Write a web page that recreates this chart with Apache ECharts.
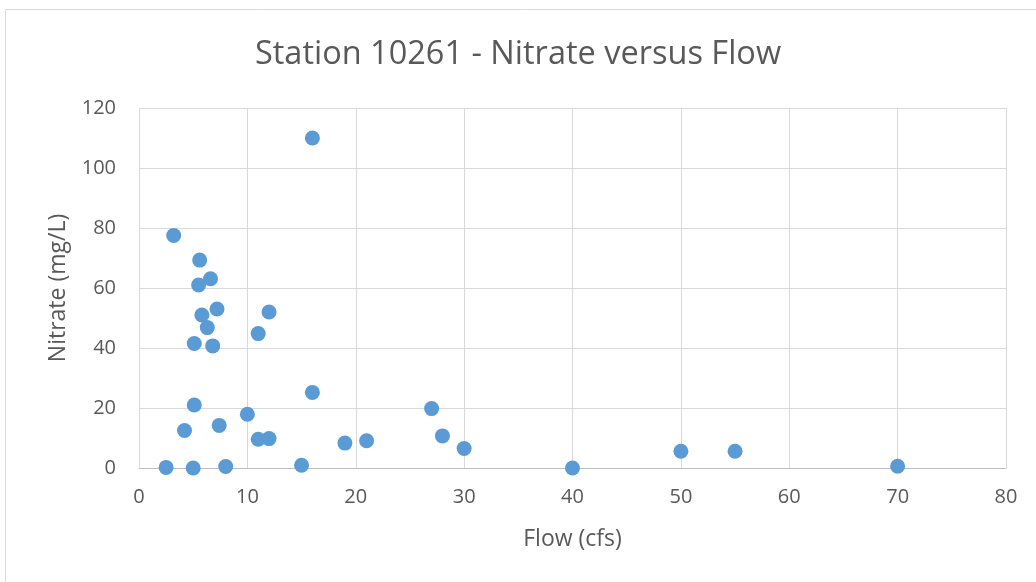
<!DOCTYPE html>
<html>
<head>
<meta charset="utf-8">
<script src="https://cdn.jsdelivr.net/npm/echarts@6/dist/echarts.min.js"></script>
<style>
html,body{margin:0;padding:0;background:#fff;}
#chart{width:1036px;height:582px;}
</style>
</head>
<body>
<div id="chart"></div>
<script>
const titleText = "Station 10261 - Nitrate versus Flow";
const xAxisName = "Flow (cfs)";
const yAxisName = "Nitrate (mg/L)";
const flowValues = [16, 3.2, 5.6, 6.6, 5.5, 7.2, 5.8, 12, 6.3, 11, 5.1, 6.8, 16, 5.1, 10, 4.2, 7.4, 11, 12, 19, 21, 27, 2.5, 5, 8, 15, 28, 30, 40, 50, 55, 70];
const nitrateValues = [110, 77.5, 69.3, 63.1, 61, 53, 51, 52, 46.8, 44.8, 41.5, 40.7, 25.2, 21, 17.9, 12.5, 14.2, 9.6, 9.8, 8.3, 9.1, 19.8, 0.2, 0, 0.5, 0.9, 10.7, 6.5, 0, 5.6, 5.6, 0.6];
const xTicks = {min: 0, max: 80, interval: 10};
const yTicks = {min: 0, max: 120, interval: 20};

const points = flowValues.map((f, i) => [f, nitrateValues[i]]);
const FONT = '"Open Sans", "Noto Sans", sans-serif';

const chart = echarts.init(document.getElementById('chart'), null, {renderer: 'canvas'});
chart.setOption({
  backgroundColor: '#ffffff',
  animation: false,
  graphic: [{
    type: 'rect',
    shape: {x: 5.5, y: 9.5, width: 1040, height: 590},
    style: {fill: 'none', stroke: '#D9D9D9', lineWidth: 1},
    silent: true
  }],
  title: {
    text: titleText,
    left: 'center',
    top: 33,
    textStyle: {fontFamily: FONT, fontSize: 32.5, fontWeight: 'normal', color: '#595959'}
  },
  grid: {left: 139, top: 108, width: 867, height: 360, containLabel: false},
  xAxis: {
    type: 'value',
    min: xTicks.min, max: xTicks.max, interval: xTicks.interval,
    name: xAxisName,
    nameLocation: 'middle',
    nameGap: 60,
    nameTextStyle: {fontFamily: FONT, fontSize: 23, color: '#595959'},
    axisLine: {show: true, lineStyle: {color: '#BFBFBF', width: 1}},
    axisTick: {show: false},
    axisLabel: {fontFamily: FONT, fontSize: 20, color: '#595959', margin: 19},
    splitLine: {show: true, lineStyle: {color: '#D9D9D9', width: 1}}
  },
  yAxis: {
    type: 'value',
    min: yTicks.min, max: yTicks.max, interval: yTicks.interval,
    name: yAxisName,
    nameLocation: 'middle',
    nameGap: 69,
    nameRotate: 90,
    nameTextStyle: {fontFamily: FONT, fontSize: 23, color: '#595959'},
    axisLine: {show: false},
    axisTick: {show: false},
    axisLabel: {fontFamily: FONT, fontSize: 20, color: '#595959', margin: 23},
    splitLine: {show: true, lineStyle: {color: '#D9D9D9', width: 1}}
  },
  series: [{
    type: 'scatter',
    data: points,
    symbol: 'circle',
    symbolSize: 15,
    itemStyle: {color: '#5B9BD5', opacity: 1},
    emphasis: {disabled: true}
  }]
});
</script>
</body>
</html>
